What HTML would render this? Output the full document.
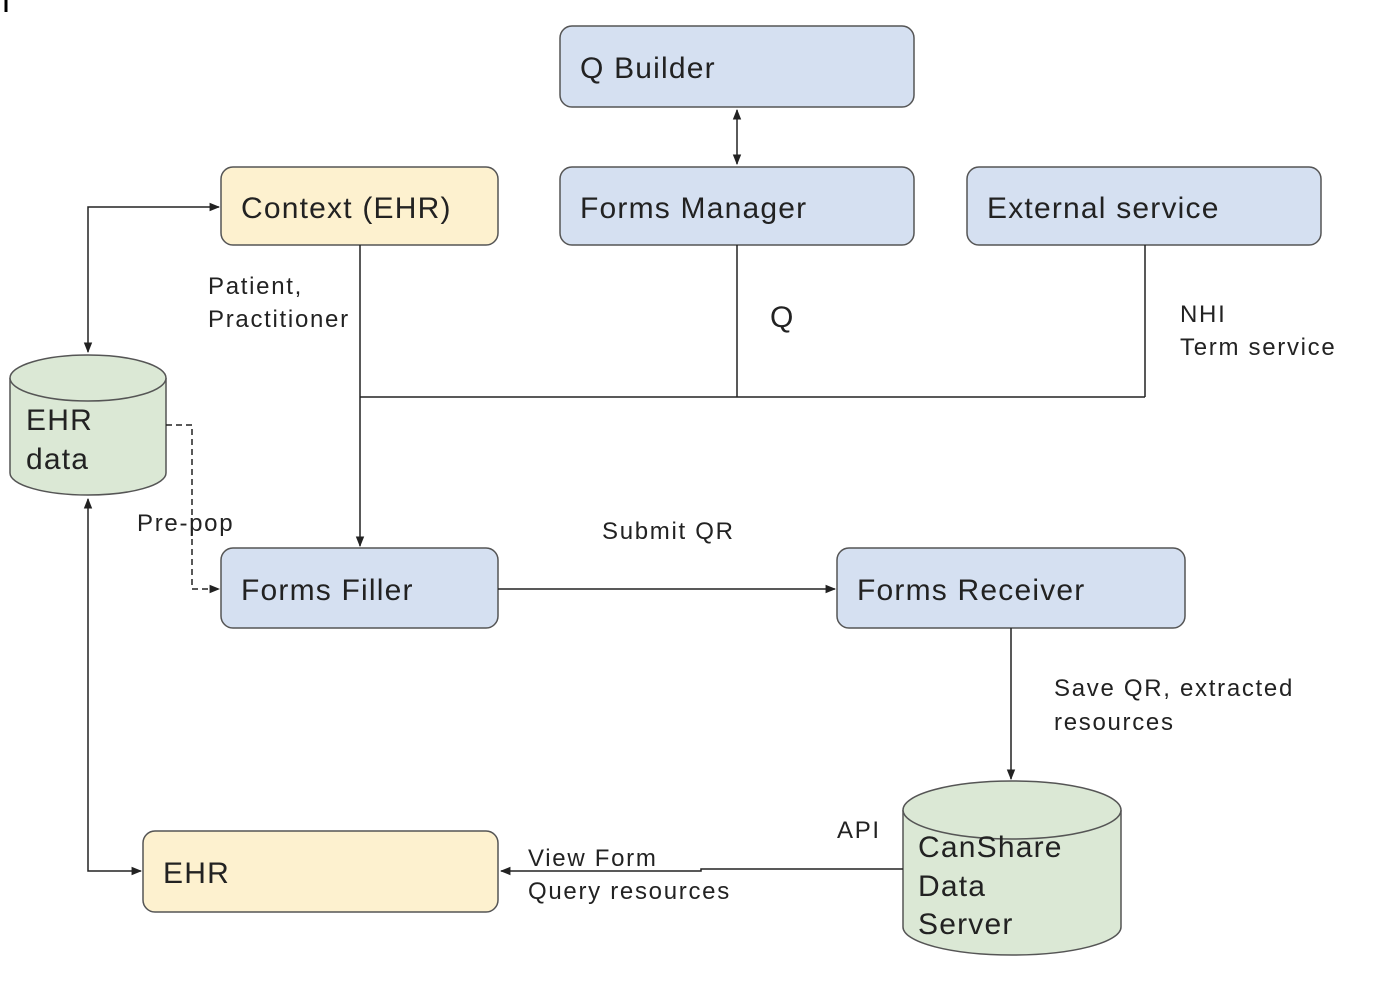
<!DOCTYPE html>
<html><head><meta charset="utf-8"><style>
html,body{margin:0;padding:0;background:#fff;}
svg{display:block;font-family:"Liberation Sans",Arial,sans-serif;}
</style></head><body>
<svg width="1382" height="1002" viewBox="0 0 1382 1002" xmlns="http://www.w3.org/2000/svg">
<defs>
<marker id="a" viewBox="0 0 10 10" refX="9" refY="5" markerWidth="7" markerHeight="7" orient="auto-start-reverse"><path d="M0,1 L10,5 L0,9 z" fill="#222"/></marker>
</defs>
<line x1="6" y1="0" x2="6" y2="12" stroke="#000" stroke-width="3"/>
<g stroke="#555" stroke-width="1.5">
<rect x="560" y="26" width="354" height="81" rx="12" fill="#d5e0f1"/>
<rect x="560" y="167" width="354" height="78" rx="12" fill="#d5e0f1"/>
<rect x="967" y="167" width="354" height="78" rx="12" fill="#d5e0f1"/>
<rect x="221" y="167" width="277" height="78" rx="12" fill="#fdf1cf"/>
<rect x="221" y="548" width="277" height="80" rx="12" fill="#d5e0f1"/>
<rect x="837" y="548" width="348" height="80" rx="12" fill="#d5e0f1"/>
<rect x="143" y="831" width="355" height="81" rx="12" fill="#fdf1cf"/>
<path d="M10,378 L10,473 A78,22 0 0 0 166,473 L166,378" fill="#dbe8d5"/>
<ellipse cx="88" cy="378" rx="78" ry="23" fill="#dbe8d5"/>
<path d="M903,810 L903,927 A109,28 0 0 0 1121,927 L1121,810" fill="#dbe8d5"/>
<ellipse cx="1012" cy="810" rx="109" ry="29" fill="#dbe8d5"/>
</g>
<g stroke="#222" stroke-width="1.5" fill="none">
<line x1="737" y1="110" x2="737" y2="164" marker-start="url(#a)" marker-end="url(#a)"/>
<line x1="737" y1="245" x2="737" y2="397"/>
<line x1="1145" y1="245" x2="1145" y2="397"/>
<line x1="360" y1="397" x2="1145" y2="397"/>
<line x1="360" y1="245" x2="360" y2="546" marker-end="url(#a)"/>
<path d="M219,207 L88,207 L88,352" marker-start="url(#a)" marker-end="url(#a)"/>
<path d="M166,425 L192,425 L192,589 L219,589" stroke-dasharray="6,4" marker-end="url(#a)"/>
<line x1="498" y1="589" x2="835" y2="589" marker-end="url(#a)"/>
<line x1="1011" y1="628" x2="1011" y2="779" marker-end="url(#a)"/>
<path d="M903,869 L701,869 L701,871 L501,871" marker-end="url(#a)"/>
<path d="M88,499 L88,871 L141,871" marker-start="url(#a)" marker-end="url(#a)"/>
</g>
<g fill="#222" font-size="30" letter-spacing="1.2">
<text x="580" y="78">Q Builder</text>
<text x="580" y="218">Forms Manager</text>
<text x="987" y="218">External service</text>
<text x="241" y="218">Context (EHR)</text>
<text x="241" y="600">Forms Filler</text>
<text x="857" y="600">Forms Receiver</text>
<text x="163" y="883">EHR</text>
<text x="26" y="430">EHR</text>
<text x="26" y="469">data</text>
<text x="918" y="857">CanShare</text>
<text x="918" y="896">Data</text>
<text x="918" y="934">Server</text>
</g>
<g fill="#222" font-size="24" letter-spacing="1.7">
<text x="208" y="294">Patient,</text>
<text x="208" y="327">Practitioner</text>
<text x="770" y="327" font-size="30" letter-spacing="0">Q</text>
<text x="1180" y="322">NHI</text>
<text x="1180" y="355">Term service</text>
<text x="137" y="531">Pre-pop</text>
<text x="602" y="539">Submit QR</text>
<text x="1054" y="696">Save QR, extracted</text>
<text x="1054" y="730">resources</text>
<text x="837" y="838">API</text>
<text x="528" y="866">View Form</text>
<text x="528" y="899">Query resources</text>
</g>
</svg>
</body></html>
